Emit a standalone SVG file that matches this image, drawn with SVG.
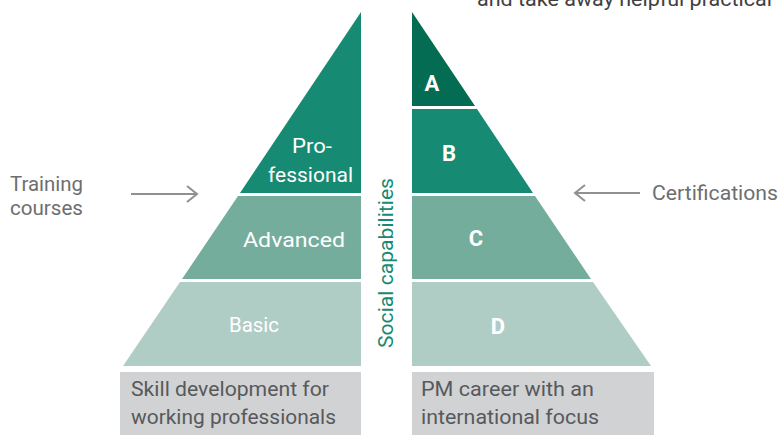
<svg xmlns="http://www.w3.org/2000/svg" width="782" height="435" viewBox="0 0 782 435">
<defs>
<style>
.t{font-family:Roboto,"Liberation Sans",sans-serif;font-size:21px}
.g{fill:#6d6e70}
.w{fill:#ffffff}
.b{font-weight:bold;font-size:22px}
.dk{fill:#046c53}
.md{fill:#178a73}
.lt{fill:#75ad9d}
.pl{fill:#afcdc5}
.box{fill:#d1d2d4}
.bt{fill:#58595b}
.arr{stroke:#8f9092;stroke-width:2;fill:none}
</style>
</defs>
<rect width="782" height="435" fill="#ffffff"/>
<text class="t" x="477" y="6" fill="#3f4042" textLength="295" lengthAdjust="spacingAndGlyphs">and take away helpful practical</text>
<g id="left-professional"><polygon class="md" points="361,12 361,193 240,193"/><text class="t w" x="292" y="153" textLength="40" lengthAdjust="spacingAndGlyphs">Pro-</text><text class="t w" x="268" y="182" textLength="85" lengthAdjust="spacingAndGlyphs">fessional</text></g>
<g id="left-advanced"><polygon class="lt" points="238,196 361,196 361,279 182,279"/><text class="t w" x="243" y="247" textLength="102" lengthAdjust="spacingAndGlyphs">Advanced</text></g>
<g id="left-basic"><polygon class="pl" points="180,282 361,282 361,366 123,366"/><text class="t w" x="229" y="332" textLength="50" lengthAdjust="spacingAndGlyphs">Basic</text></g>
<g id="left-box"><rect class="box" x="120" y="372" width="241" height="63"/><text class="t bt" x="131" y="396" textLength="198" lengthAdjust="spacingAndGlyphs">Skill development for</text><text class="t bt" x="131" y="424" textLength="205" lengthAdjust="spacingAndGlyphs">working professionals</text></g>
<g id="right-a"><polygon class="dk" points="412,12 475,106 412,106"/><text class="t w b" x="432" y="91" text-anchor="middle">A</text></g>
<g id="right-b"><polygon class="md" points="412,109 477,109 533,193 412,193"/><text class="t w b" x="449" y="161" text-anchor="middle">B</text></g>
<g id="right-c"><polygon class="lt" points="412,196 535,196 591,279 412,279"/><text class="t w b" x="476" y="246" text-anchor="middle">C</text></g>
<g id="right-d"><polygon class="pl" points="412,282 593,282 651,366 412,366"/><text class="t w b" x="498" y="334" text-anchor="middle">D</text></g>
<g id="right-box"><rect class="box" x="412" y="372" width="242" height="63"/><text class="t bt" x="421" y="396" textLength="173" lengthAdjust="spacingAndGlyphs">PM career with an</text><text class="t bt" x="421" y="424" textLength="178" lengthAdjust="spacingAndGlyphs">international focus</text></g>
<g id="social"><text class="t" fill="#178a73" transform="translate(393,348) rotate(-90)" textLength="170" lengthAdjust="spacingAndGlyphs">Social capabilities</text></g>
<g id="training"><text class="t g" x="10" y="191" textLength="73" lengthAdjust="spacingAndGlyphs">Training</text><text class="t g" x="10" y="215" textLength="73" lengthAdjust="spacingAndGlyphs">courses</text></g>
<g id="certifications"><text class="t g" x="652" y="200" textLength="126" lengthAdjust="spacingAndGlyphs">Certifications</text></g>
<g id="connectors">
<path class="arr" d="M131,194 H197 M187,186 L197,194 L187,202"/>
<path class="arr" d="M640,193 H575 M585,185 L575,193 L585,201"/>
</g>
</svg>
